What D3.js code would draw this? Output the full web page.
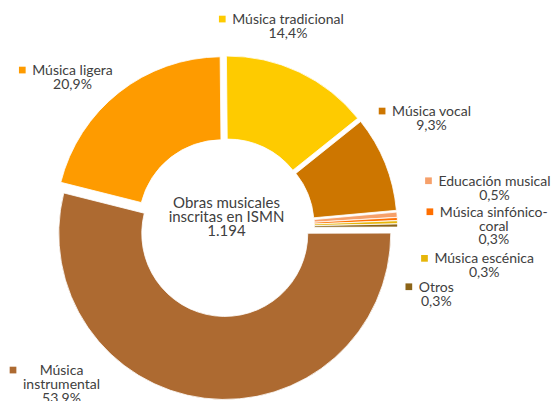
<!DOCTYPE html>
<html lang="es">
<head>
<meta charset="UTF-8">
<title>Obras musicales inscritas en ISMN</title>
<script src="https://d3js.org/d3.v7.min.js"></script>
<style>
  body { margin: 0; background: #fff; }
  svg { display: block; font-family: Lato, "Open Sans", sans-serif; }
  .lbl { font-size: 14px; fill: #404040; }
  .centro { font-size: 15px; fill: #404040; text-anchor: middle; }
</style>
</head>
<body>
<svg width="555" height="401"></svg>
<script>
    // datos (porcentajes)
    const categories = ["Música tradicional", "Música vocal", "Educación musical", "Música sinfónico-coral",
        "Música escénica", "Otros", "Música instrumental", "Música ligera"];
    const values = [14.4, 9.3, 0.5, 0.3, 0.3, 0.3, 53.9, 20.9];
    const colors = ["#fecb00", "#cd7600", "#f6a06a", "#ff6f00", "#e6b60a", "#8c6418", "#ad6a31", "#fe9b00"];
    // cómo se parten los nombres en la etiqueta
    const labelLines = [["Música tradicional"], ["Música vocal"], ["Educación musical"], ["Música sinfónico-", "coral"],
        ["Música escénica"], ["Otros"], ["Música", "instrumental"], ["Música ligera"]];
    const centerLines = ["Obras musicales", "inscritas en ISMN"];
    const total = 1194;

    // posición de las etiquetas (centro del texto, primera línea base), colocadas a mano como en el original
    const labelPos = [[288, 24], [431.5, 116], [494.5, 185.7], [493.8, 216.7], [484.2, 263.3], [436.3, 291.7], [61.5, 375], [72.5, 75]];

    const cx = 225.5, cy = 227.5;
    const outerR = 166, innerR = 83, explode = 6;
    const lineH = 13.8;
    const rot = -0.01; // el gráfico original arranca un pelín antes de las 12

    const es = d3.formatLocale({ decimal: ",", thousands: ".", grouping: [3], currency: ["", " €"] });
    const fmtPct = es.format(".1f");
    const fmtInt = es.format(",d");

    const svg = d3.select("svg");

    const pie = d3.pie().sort(null).value(d => d)
        .startAngle(rot).endAngle(2 * Math.PI + rot);
    const arc = d3.arc().innerRadius(innerR).outerRadius(outerR);
    const arcs = pie(values);

    const g = svg.append("g").attr("transform", `translate(${cx},${cy})`);

    // sectores, separados un poco del centro
    g.selectAll("path.slice")
        .data(arcs)
        .enter()
        .append("path")
        .attr("class", "slice")
        .attr("d", arc)
        .attr("fill", (d, i) => colors[i])
        .attr("stroke", "#fff")
        .attr("stroke-width", 0.8)
        .attr("transform", d => {
            const mid = (d.startAngle + d.endAngle) / 2;
            return `translate(${Math.sin(mid) * explode},${-Math.cos(mid) * explode})`;
        });

    // texto central
    const ct = svg.append("text").attr("class", "centro");
    centerLines.concat([fmtInt(total)]).forEach((t, i) => {
        ct.append("tspan").attr("x", cx + 1).attr("y", cy - 20 + i * 14).text(t);
    });

    // etiquetas con su cuadradito de color
    labelLines.forEach((lines, i) => {
        const [tx, ty] = labelPos[i];
        const t = svg.append("text").attr("class", "lbl").attr("text-anchor", "middle");
        const all = lines.concat([fmtPct(values[i]) + "%"]);
        all.forEach((s, j) => {
            t.append("tspan").attr("x", tx).attr("y", ty + j * lineH).text(s);
        });
        let w = 0;
        t.selectAll("tspan").each(function (d, j) {
            if (j < lines.length) w = Math.max(w, this.getComputedTextLength());
        });
        svg.append("rect")
            .attr("x", tx - w / 2 - 13.3)
            .attr("y", ty - 8.3)
            .attr("width", 6.7)
            .attr("height", 6.7)
            .attr("fill", colors[i]);
    });
</script>
</body>
</html>
